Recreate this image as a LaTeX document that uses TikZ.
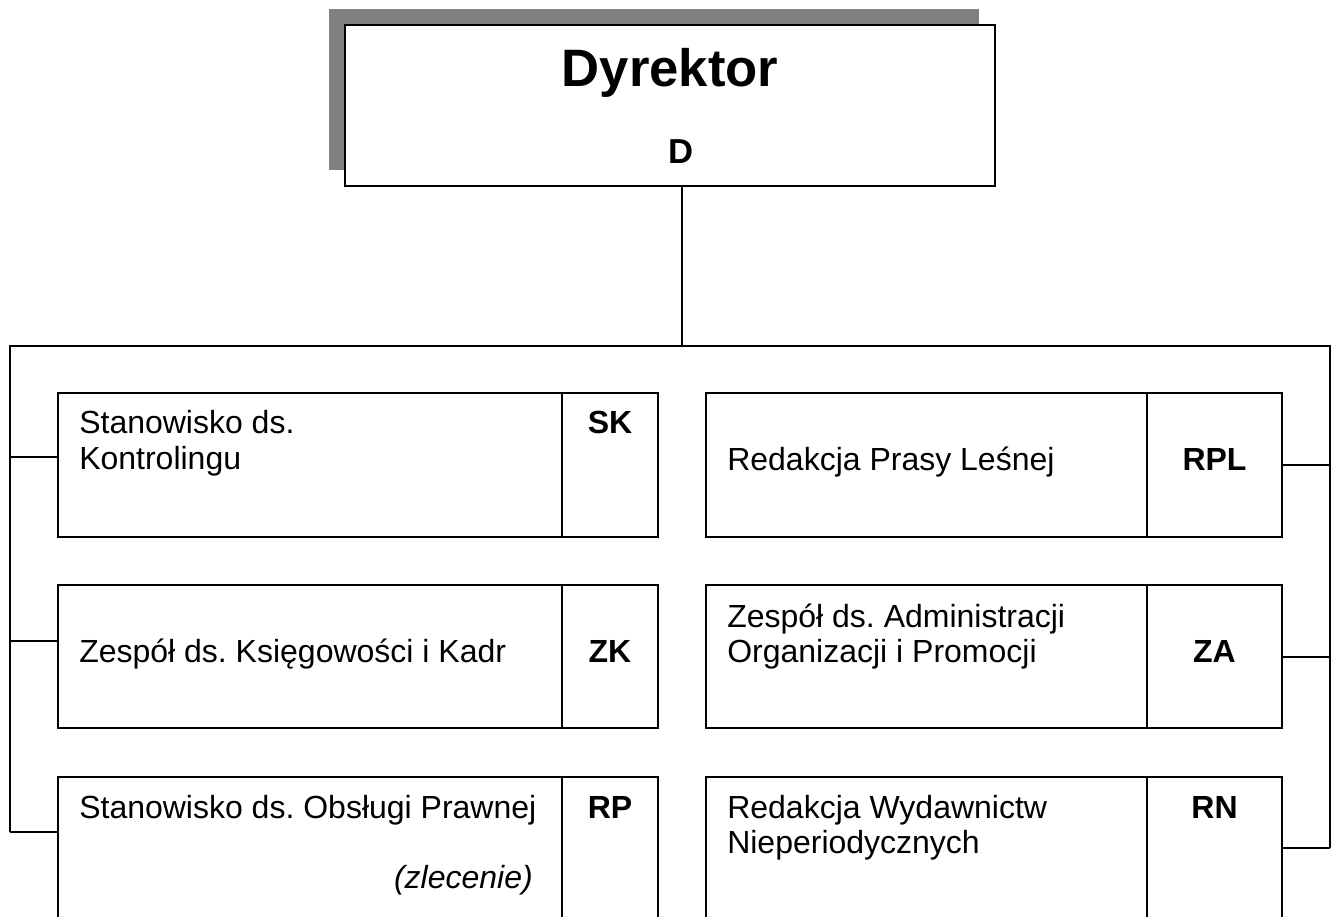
\documentclass[tikz,border=0pt]{standalone}
\usepackage{fontspec}
\setmainfont{Liberation Sans}
\frenchspacing
\begin{document}
\begin{tikzpicture}[x=0.75pt,y=-0.75pt,
  unit/.style={draw, line width=1.4pt, inner sep=0pt, outer sep=0pt, anchor=north west, fill=white},
  lbl/.style={font=\fontsize{24}{27}\selectfont, anchor=base west, inner sep=0pt},
  code/.style={font=\fontsize{24}{27}\selectfont\bfseries, anchor=base, inner sep=0pt},
  link/.style={line width=1.1pt},
  shadowbox/.style={fill=black!50, draw=none}]
\useasboundingbox (0,0) rectangle (1332,917);
\clip (0,0) rectangle (1332,917);
% director
\fill[shadowbox] (329,9) rectangle (979,170);
\node[unit, minimum width=650*0.75pt, minimum height=161*0.75pt] (dyr) at (345,25) {};
\node[font=\fontsize{39.5}{44}\selectfont\bfseries, anchor=base, inner sep=0pt] (dyrt) at (670,87) {Dyrektor};
\node[font=\fontsize{26}{28}\selectfont\bfseries, anchor=base, inner sep=0pt] (dcode) at (681,163) {D};
% bus
\coordinate (top) at (682,346);
\coordinate (busL) at (10,346);
\coordinate (busR) at (1330,346);
\coordinate (bl1) at (10,457);
\coordinate (bl2) at (10,641);
\coordinate (bl3) at (10,832);
\coordinate (br1) at (1330,465);
\coordinate (br2) at (1330,657);
\coordinate (br3) at (1330,848);
\draw[link] (dyr.south -| top) -- (top);
\draw[line width=1.3pt] (bl3) -- (busL) -- (busR) -- (br3);
% left column
\node[unit, minimum width=504.3*0.75pt, minimum height=144*0.75pt] (skn) at (57.7,393) {};
\node[unit, minimum width=96*0.75pt, minimum height=144*0.75pt] (skc) at (562,393) {};
\node[unit, minimum width=504.3*0.75pt, minimum height=143*0.75pt] (zkn) at (57.7,585) {};
\node[unit, minimum width=96*0.75pt, minimum height=143*0.75pt] (zkc) at (562,585) {};
\node[unit, minimum width=504.3*0.75pt, minimum height=160*0.75pt] (rpn) at (57.7,777) {};
\node[unit, minimum width=96*0.75pt, minimum height=160*0.75pt] (rpc) at (562,777) {};
% right column
\node[unit, minimum width=441*0.75pt, minimum height=144*0.75pt] (rpln) at (706,393) {};
\node[unit, minimum width=135*0.75pt, minimum height=144*0.75pt] (rplc) at (1147,393) {};
\node[unit, minimum width=441*0.75pt, minimum height=143*0.75pt] (zan) at (706,585) {};
\node[unit, minimum width=135*0.75pt, minimum height=143*0.75pt] (zac) at (1147,585) {};
\node[unit, minimum width=441*0.75pt, minimum height=160*0.75pt] (rnn) at (706,777) {};
\node[unit, minimum width=135*0.75pt, minimum height=160*0.75pt] (rnc) at (1147,777) {};
% connectors
\draw[link] (bl1) -- (bl1 -| skn.west);
\draw[link] (bl2) -- (bl2 -| zkn.west);
\draw[link] (bl3) -- (bl3 -| rpn.west);
\draw[link] (br1) -- (br1 -| rplc.east);
\draw[link] (br2) -- (br2 -| zac.east);
\draw[link] (br3) -- (br3 -| rnc.east);
% texts left
\node[lbl] (t1a) at (79,433) {Stanowisko ds.};
\node[lbl] (t1b) at (79,469) {Kontrolingu};
\node[code] (c1) at (610,433) {SK};
\node[lbl] (t2) at (79,662) {Zespół ds. Księgowości i Kadr};
\node[code] (c2) at (610,662) {ZK};
\node[lbl] (t3) at (79,818) {Stanowisko ds. Obsługi Prawnej};
\node[lbl, anchor=base east, font=\fontsize{24}{27}\selectfont\itshape] (t3b) at (533,888) {(zlecenie)};
\node[code] (c3) at (610,818) {RP};
% texts right
\node[lbl] (t4) at (727,470) {Redakcja Prasy Leśnej};
\node[code] (c4) at (1214.5,470) {RPL};
\node[lbl] (t5a) at (727,627) {Zespół ds. Administracji};
\node[lbl] (t5b) at (727,662) {Organizacji i Promocji};
\node[code] (c5) at (1214.5,662) {ZA};
\node[lbl] (t6a) at (727,818) {Redakcja Wydawnictw};
\node[lbl] (t6b) at (727,853) {Nieperiodycznych};
\node[code] (c6) at (1214.5,818) {RN};
\end{tikzpicture}
\end{document}
